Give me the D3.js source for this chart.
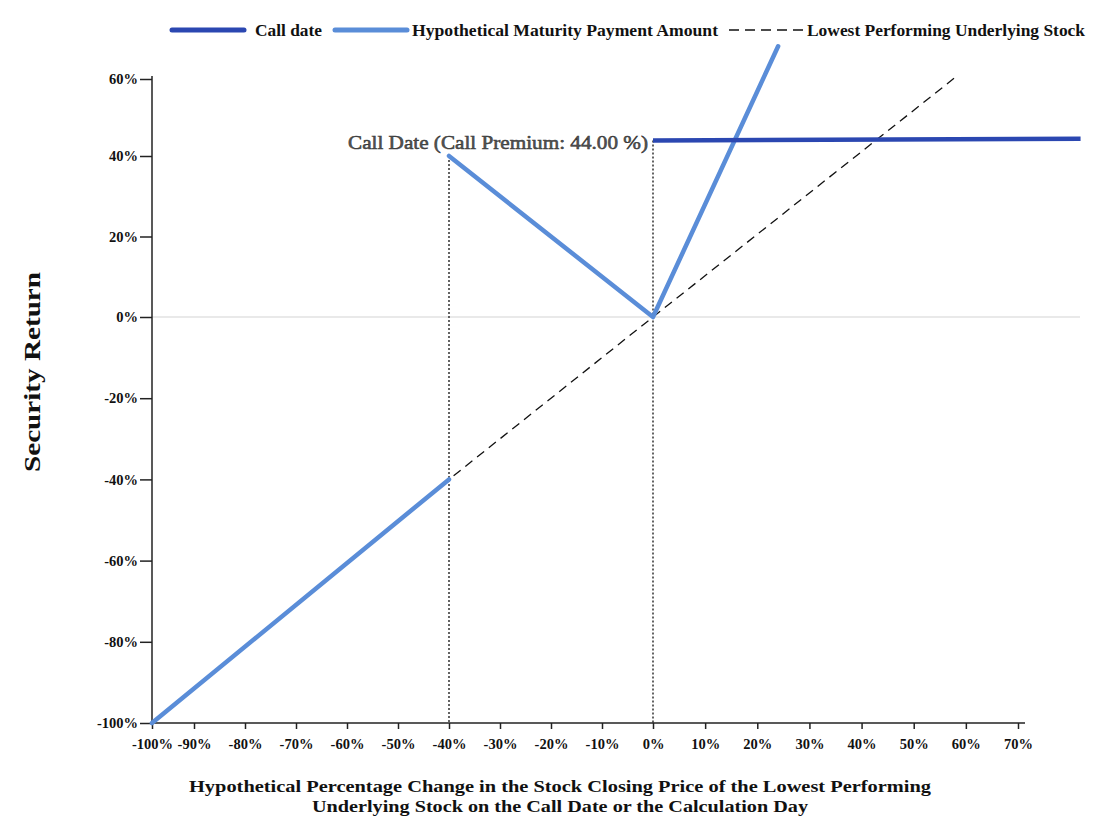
<!DOCTYPE html>
<html><head><meta charset="utf-8">
<script src="https://cdn.jsdelivr.net/npm/d3@7"></script>
<style>body{margin:0;background:#fff}svg{display:block}</style>
</head><body>
<svg id="c" width="1100" height="829"></svg>
<script>
// ---- data ----
const xTicks = [-100,-90,-80,-70,-60,-50,-40,-30,-20,-10,0,10,20,30,40,50,60,70];
const yTicks = [-100,-80,-60,-40,-20,0,20,40,60];
const maturityLow = [[-100,-100],[-40,-40]];          // below barrier
const maturityHigh = [[-40,40],[0,0],[24,68.5]];      // above barrier
const stockLine = [[-100,-100],[-40,-40],[0,0],[58.5,61]];
const callDate = [[0,44],[82,44.5]];
const vRefs = [{x:-40, y:40},{x:0, y:44}];
const annotationText = "Call Date (Call Premium: 44.00 %)";
const legendItems = [
  {label:"Call date", type:"dark"},
  {label:"Hypothetical Maturity Payment Amount", type:"light"},
  {label:"Lowest Performing Underlying Stock", type:"dash"}
];
const xTitle = ["Hypothetical Percentage Change in the Stock Closing Price of the Lowest Performing",
                "Underlying Stock on the Call Date or the Calculation Day"];
const yTitle = "Security Return";

// ---- layout ----
const svg = d3.select("#c");
const x = d3.scaleLinear().domain([-100,-90,0,70]).range([152,194,653,1018]);
const y = d3.scaleLinear().domain([-100,0,40,60]).range([723,317,156,79]);
const DARK = "#2b47b1", LIGHT = "#5a8dd8";
const serif = "'Liberation Serif','DejaVu Serif',serif";
const fmt = d => d + "%";

// zero line
svg.append("line").attr("x1",x(-100)).attr("x2",1080).attr("y1",y(0)).attr("y2",y(0))
  .attr("stroke","#d4d4d4").attr("stroke-width",1.2);

// axes
const xAxis = svg.append("g").attr("transform",`translate(0,${y(-100)})`)
  .call(d3.axisBottom(x).tickValues(xTicks).tickFormat(fmt).tickSize(6).tickSizeOuter(0));
xAxis.select(".domain").attr("d",`M${x(-100)},0H1025`).attr("stroke","#222").attr("stroke-width",1.5);
const yAxis = svg.append("g").attr("transform",`translate(${x(-100)},0)`)
  .call(d3.axisLeft(y).tickValues(yTicks).tickFormat(fmt).tickSize(12).tickSizeOuter(0));
yAxis.select(".domain").attr("d",`M0,76V${y(-100)}`).attr("stroke","#222").attr("stroke-width",1.5);
[xAxis,yAxis].forEach(g=>{
  g.selectAll(".tick line").attr("stroke","#222").attr("stroke-width",1.5);
  g.selectAll(".tick text").attr("font-family",serif).attr("font-weight","bold")
   .attr("font-size",14.5).attr("fill","#111");
});
xAxis.selectAll(".tick text").attr("dy","1.2em");
yAxis.selectAll(".tick text").attr("x",-14);

// vertical dotted reference lines
svg.selectAll(".vref").data(vRefs).join("line")
  .attr("x1",d=>x(d.x)).attr("x2",d=>x(d.x))
  .attr("y1",d=>y(d.y)).attr("y2",y(-100))
  .attr("stroke","#111").attr("stroke-width",1.3).attr("stroke-dasharray","2,2");

const line = d3.line().x(d=>x(d[0])).y(d=>y(d[1]));

// dashed stock line
svg.append("path").attr("d",line(stockLine)).attr("fill","none")
  .attr("stroke","#111").attr("stroke-width",1.3).attr("stroke-dasharray","9,6");

// maturity lines
[maturityLow, maturityHigh].forEach(seg=>{
  svg.append("path").attr("d",line(seg)).attr("fill","none")
    .attr("stroke",LIGHT).attr("stroke-width",4.5).attr("stroke-linecap","round")
    .attr("stroke-linejoin","round");
});

// call date line
svg.append("path").attr("d",line(callDate)).attr("fill","none")
  .attr("stroke",DARK).attr("stroke-width",4.5);

// annotation
svg.append("text").attr("x",x(0)-5).attr("y",y(44)+8).attr("text-anchor","end")
  .attr("font-family",serif).attr("font-size",18).attr("fill","#555")
  .attr("stroke","#333").attr("stroke-width",0.5)
  .attr("textLength",300).attr("lengthAdjust","spacingAndGlyphs")
  .text(annotationText);

// legend
const lg = svg.append("g").attr("font-family",serif).attr("font-weight","bold").attr("font-size",16);
const legendPos = [{sx:172,tx:255,tw:67},{sx:335,tx:412,tw:306},{sx:729,tx:807,tw:278}];
legendItems.forEach((it,i)=>{
  const p = legendPos[i];
  const l = lg.append("line").attr("x1",p.sx).attr("x2",p.sx+(it.type==="dash"?75:72))
    .attr("y1",30).attr("y2",30);
  if(it.type==="dash") l.attr("stroke","#111").attr("stroke-width",1.3).attr("stroke-dasharray","10,6");
  else l.attr("stroke",it.type==="dark"?DARK:LIGHT).attr("stroke-width",5).attr("stroke-linecap","round");
  lg.append("text").attr("x",p.tx).attr("y",36).attr("fill","#111")
    .attr("textLength",p.tw).attr("lengthAdjust","spacingAndGlyphs").text(it.label);
});

// axis titles
svg.append("text").attr("transform","translate(40,372) rotate(-90)").attr("text-anchor","middle")
  .attr("font-family",serif).attr("font-weight","bold").attr("font-size",23).attr("fill","#111")
  .attr("textLength",200).attr("lengthAdjust","spacingAndGlyphs").text(yTitle);
const xt = svg.append("g").attr("font-family",serif).attr("font-weight","bold").attr("font-size",17).attr("fill","#111");
xt.append("text").attr("x",560).attr("y",792).attr("text-anchor","middle")
  .attr("textLength",742).attr("lengthAdjust","spacingAndGlyphs").text(xTitle[0]);
xt.append("text").attr("x",560).attr("y",812).attr("text-anchor","middle")
  .attr("textLength",496).attr("lengthAdjust","spacingAndGlyphs").text(xTitle[1]);
</script>
</body></html>
